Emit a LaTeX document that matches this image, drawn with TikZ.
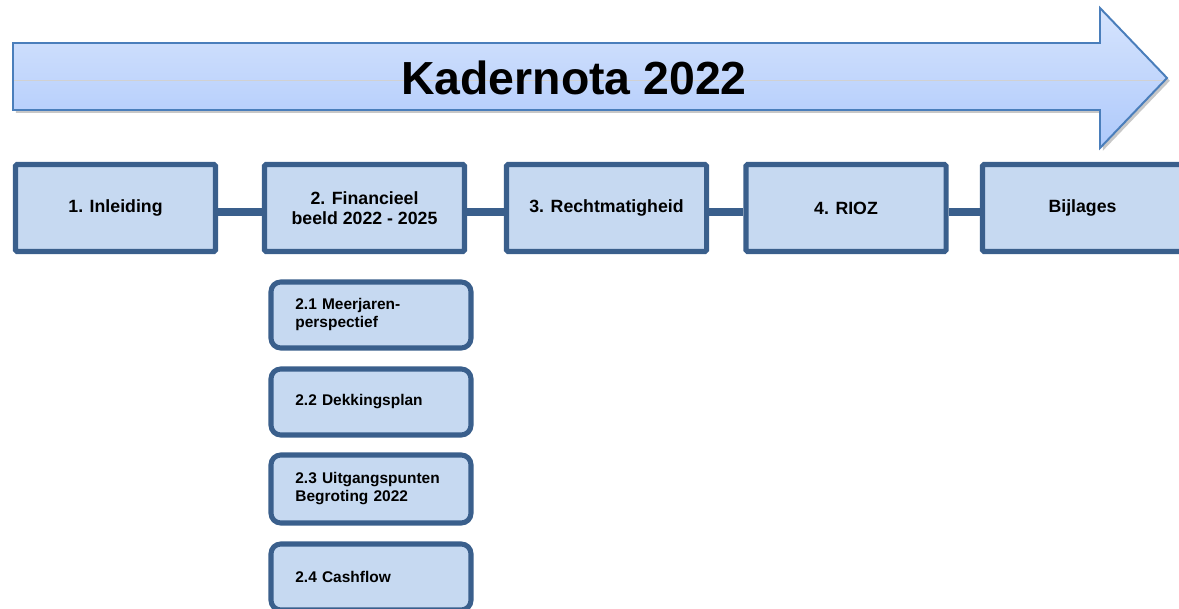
\documentclass[tikz,border=0pt]{standalone}
\usepackage{fontspec}
\setmainfont{Liberation Sans}
\definecolor{boxfill}{RGB}{198,217,241}
\definecolor{boxline}{RGB}{58,95,140}
\definecolor{arrowtop}{RGB}{214,228,253}
\definecolor{arrowbot}{RGB}{174,201,251}
\definecolor{arrowline}{RGB}{74,126,187}
\begin{document}
\begin{tikzpicture}[x=0.025cm,y=-0.025cm,
    chapter/.style={draw=boxline,fill=boxfill,line width=3.6pt,minimum width=5cm,
      minimum height=2.175cm,align=center,rounded corners=1pt,
      font=\bfseries\fontsize{12.6}{14.2}\selectfont},
    section/.style={draw=boxline,fill=boxfill,line width=3.6pt,rounded corners=7pt,
      inner xsep=0.61cm,text width=3.78cm,minimum height=1.65cm,align=left,
      font=\bfseries\fontsize{11}{12.8}\selectfont},
    link/.style={boxline,line width=5.7pt}]
  \useasboundingbox (0,0) rectangle (1179,609);

  \coordinate (tail1) at (13,43);
  \coordinate (neck1) at (1100,43);
  \coordinate (head1) at (1100,8);
  \coordinate (tip) at (1167,78);
  \coordinate (head2) at (1100,148);
  \coordinate (neck2) at (1100,110);
  \coordinate (tail2) at (13,110);

  \fill [black!22] ([shift={(2pt,-2pt)}]tail1) -- ([shift={(2pt,-2pt)}]neck1)
    -- ([shift={(2pt,-2pt)}]head1) -- ([shift={(2pt,-2pt)}]tip)
    -- ([shift={(2pt,-2pt)}]head2) -- ([shift={(2pt,-2pt)}]neck2)
    -- ([shift={(2pt,-2pt)}]tail2) -- cycle;
  \shade [top color=arrowtop,bottom color=arrowbot] (tail1) -- (neck1) -- (head1)
    -- (tip) -- (head2) -- (neck2) -- (tail2) -- cycle;
  \begin{scope}
    \clip (tail1) -- (neck1) -- (head1) -- (tip) -- (head2) -- (neck2) -- (tail2) -- cycle;
    \draw [black!18,line width=0.5pt] (0,80) -- (1179,80);
  \end{scope}
  \draw [arrowline,line width=1.4pt,line join=miter] (tail1) -- (neck1) -- (head1)
    -- (tip) -- (head2) -- (neck2) -- (tail2) -- cycle;
  \node (title) at (574,78) {\bfseries\fontsize{33}{36}\selectfont Kadernota 2022};

  \node[chapter] (box1) at (115.5,208) {1. Inleiding};
  \node[chapter] (box2) at (364.5,208) {2. Financieel\\beeld 2022 - 2025};
  \node[chapter] (box3) at (606.5,208) {3. Rechtmatigheid};
  \node[chapter] (box4) at (846,208) {4. RIOZ};
  \node[chapter] (box5) at (1082.5,208) {Bijlages};

  \draw [link] ([yshift=-0.1cm]box1.east) -- ([yshift=-0.1cm]box2.west);
  \draw [link] ([yshift=-0.1cm]box2.east) -- ([yshift=-0.1cm]box3.west);
  \draw [link] ([yshift=-0.1cm]box3.east) -- ([yshift=-0.1cm]box4.west);
  \draw [link] ([yshift=-0.1cm]box4.east) -- ([yshift=-0.1cm]box5.west);

  \node[section] (sub1) at (371,315) {2.1 Meerjaren-\\perspectief};
  \node[section] (sub2) at (371,402) {2.2 Dekkingsplan};
  \node[section,minimum height=1.7cm] (sub3) at (371,489) {2.3 Uitgangspunten\\Begroting 2022};
  \node[section] (sub4) at (371,577) {2.4 Cashflow};
\end{tikzpicture}
\end{document}
